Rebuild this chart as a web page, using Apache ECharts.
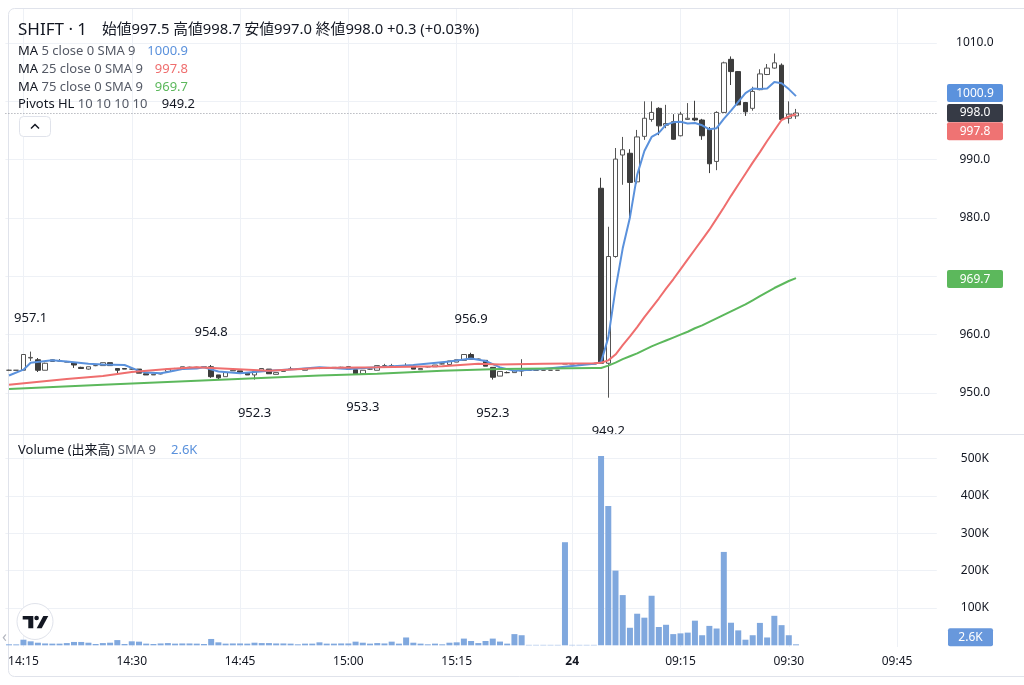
<!DOCTYPE html>
<html><head><meta charset="utf-8">
<script src="https://cdn.jsdelivr.net/npm/echarts@6/dist/echarts.min.js"></script>
<style>html,body{margin:0;padding:0;background:#fff;}#c{width:1024px;height:685px;}</style>
</head><body><div id="c"></div>
<script>
const FONT = '"Noto Sans", "Noto Sans CJK JP", sans-serif';
function minuteRange(from, to) {
  const p = s => { const a = s.split(':').map(Number); return a[0] * 60 + a[1]; };
  const out = [];
  for (let t = p(from); t <= p(to); t++) out.push(String(Math.floor(t / 60)).padStart(2, '0') + ':' + String(t % 60).padStart(2, '0'));
  return out;
}
// minute bars: previous session then session of the 24th
const categories = minuteRange('14:13', '15:30').concat(minuteRange('09:00', '09:50'));
const axisTimeLabels = ['14:15', '14:30', '14:45', '15:00', '15:15', '09:00', '09:15', '09:30', '09:45'];
const dayLabels = { '09:00': '24' };

// [open, close, low, high] per bar, 14:13 .. 09:31
const ohlc = [
  [953.9,953.9,953.8,954.0],[953.9,953.9,953.9,953.9],
  [953.9,956.6,953.9,956.6],[956.0,956.1,955.5,957.1],[955.7,953.9,953.6,956.0],[953.9,955.1,953.9,955.2],[955.4,955.7,955.4,955.8],
  [955.5,955.5,955.4,955.8],[955.4,955.3,955.3,955.5],[955.2,954.8,954.3,955.3],[954.4,954.2,954.2,954.5],[954.1,954.5,954.0,954.5],
  [954.7,954.7,954.6,954.8],[954.7,955.2,954.7,955.2],[955.2,954.7,954.7,955.2],[954.2,953.9,953.2,954.2],[954.2,954.1,954.1,954.2],
  [954.1,954.1,954.0,954.2],[954.1,953.4,953.4,954.1],[953.3,953.1,953.1,953.3],[953.1,953.2,953.1,953.2],[953.3,953.3,953.2,953.4],
  [953.7,954.1,953.7,954.1],[954.2,954.2,954.1,954.3],[954.1,954.5,954.1,954.5],[954.4,954.4,954.3,954.5],[954.4,954.4,954.3,954.5],
  [954.4,954.5,954.3,954.6],[954.5,952.8,952.6,954.8],[953.1,952.6,952.4,953.1],[952.8,953.5,952.8,953.5],[953.8,953.9,953.8,953.9],
  [953.8,953.4,953.4,953.8],[953.4,953.1,953.1,953.4],[953.1,953.7,952.3,953.7],[953.9,954.2,953.9,954.2],[954.1,953.3,953.3,954.1],
  [953.2,953.5,953.2,953.5],[953.7,954.0,953.7,954.0],[954.1,954.1,954.0,954.5],[954.1,954.1,954.1,954.2],[953.9,954.2,953.9,954.2],
  [954.3,954.3,954.2,954.4],[954.2,954.2,954.1,954.4],[954.3,954.3,954.2,954.4],[954.3,954.4,954.3,954.4],[954.4,954.4,954.3,954.5],
  [954.5,954.1,954.1,954.5],[954.0,953.3,953.3,954.0],[953.3,953.9,953.3,953.9],[954.1,954.1,954.0,954.2],[953.9,954.7,953.9,954.7],
  [954.7,954.7,954.5,955.0],[954.7,954.7,954.5,955.0],[954.6,954.6,954.5,954.7],[954.7,954.7,954.6,955.1],[954.5,954.1,954.1,954.5],
  [954.0,954.2,954.0,954.2],[954.5,954.5,954.4,954.6],[954.5,954.8,954.5,954.8],[955.0,955.0,954.9,955.1],[954.9,955.5,954.9,955.5],
  [955.3,955.7,955.3,955.7],[955.6,956.6,955.6,956.6],[956.6,955.8,955.8,956.9],[955.8,955.8,955.7,955.9],[955.6,954.6,954.6,955.6],
  [954.4,952.7,952.3,954.4],[952.9,953.7,952.9,953.7],[953.5,953.5,953.4,953.7],[953.5,953.8,953.5,953.8],[953.8,953.8,952.9,955.8],
  [953.9,953.9,953.9,953.9],[953.9,953.9,953.9,953.9],[953.9,953.9,953.9,953.9],[953.9,953.9,953.9,953.9],[953.9,953.9,953.9,953.9],
  [955.0,955.0,955.0,955.0],
  [955.0,955.0,955.0,955.0],[955.0,955.0,955.0,955.0],[955.0,955.0,955.0,955.0],[955.0,955.0,955.0,955.0],
  [985.1,955.1,955.0,986.9],[955.1,973.4,949.2,978.5],[973.4,990.1,973.2,992.0],[990.8,991.7,985.7,993.9],[991.1,986.1,979.7,991.8],
  [986.2,993.9,985.9,995.1],[994.0,997.1,993.4,1000.0],[996.9,998.1,996.5,1000.0],[998.8,995.8,994.2,999.0],[995.9,996.2,995.4,999.4],
  [996.5,993.5,993.4,997.8],[994.1,997.8,994.0,998.2],[996.9,997.1,996.8,999.7],[997.1,996.8,996.6,1000.1],[996.8,994.1,993.4,997.0],
  [995.2,989.3,987.7,995.6],[989.7,998.1,988.2,998.3],[998.1,1006.6,998.0,1006.8],[1007.2,1005.1,1002.8,1007.7],[1005.1,999.4,999.3,1005.2],
  [999.8,998.2,997.5,999.9],[998.8,1001.7,998.4,1002.5],[1002.0,1004.7,1001.9,1005.5],[1004.6,1005.7,1004.5,1006.4],[1005.7,1006.6,1005.6,1008.2],
  [1006.2,996.9,996.9,1006.5],[997.1,997.8,996.2,1000.0],[997.5,998.0,997.0,998.7]
];

const volumes = [
  2700, 2500,
  15000, 10700, 7000, 5000, 4500, 4500, 6000, 9000, 9000, 7000,
  3500, 6000, 7000, 14000, 3500, 10700, 9800, 4500, 3500, 5000,
  6000, 4500, 5000, 5000, 4500, 3500, 17000, 8000, 4500, 5000,
  5000, 4500, 7000, 6000, 6000, 5000, 5000, 4500, 2700, 4500,
  4500, 8000, 4500, 4500, 5000, 5000, 9800, 7000, 4500, 6000,
  5000, 9800, 4500, 21000, 7000, 4500, 2700, 4500, 2700, 7000,
  8000, 18000, 11600, 6000, 11600, 18000, 10000, 4500, 30000, 27000,
  1200, 1200, 1200, 1200, 1200, 276000, 1200, 1200, 1200, 1200,
  507000, 373000, 200000, 134500, 47000, 84600, 74000, 132700, 49000, 55000,
  30000, 32000, 34000, 66000, 27000, 52000, 45000, 250000, 60500, 40000,
  15000, 27000, 60000, 21000, 79000, 54000, 27000, 2600
];

const ma5 = [
  ['14:13',953.0],['14:15',954.0],['14:16',955.2],['14:19',955.6],['14:21',955.4],['14:24',955.0],['14:26',954.9],
  ['14:29',954.8],['14:30',954.3],['14:31',953.8],['14:32',953.5],['14:34',953.4],['14:35',953.6],['14:37',954.1],
  ['14:39',954.2],['14:40',954.4],['14:42',953.7],['14:45',953.4],['14:49',953.8],['14:53',954.1],['14:56',954.4],
  ['15:00',954.1],['15:04',954.4],['15:09',954.8],['15:14',955.4],['15:17',955.9],['15:19',955.5],['15:21',954.4],
  ['15:23',953.8],['15:27',954.1],['15:30',954.5],['09:03',955.0],['09:04',955.3],['09:05',959.5],['09:06',967.8],
  ['09:07',974.8],['09:08',980.1],['09:09',987.4],['09:10',991.5],['09:11',993.9],['09:12',994.6],['09:13',996.0],
  ['09:14',996.4],['09:15',996.5],['09:16',996.2],['09:17',996.3],['09:18',995.9],['09:19',995.2],['09:20',995.4],
  ['09:21',997.0],['09:22',998.4],['09:23',999.9],['09:24',1001.4],['09:25',1002.2],['09:26',1002.1],['09:27',1002.2],
  ['09:28',1003.3],['09:29',1003.1],['09:30',1002.1],['09:31',1000.9]
];
const ma25 = [
  ['14:13',951.4],['14:21',952.4],['14:26',952.9],['14:30',953.6],['14:35',954.1],['14:39',954.4],['14:44',954.1],
  ['14:49',953.8],['14:56',954.3],['15:04',954.4],['15:13',954.6],['15:18',955.0],['15:21',954.9],['15:27',955.0],
  ['09:03',955.1],['09:04',955.2],['09:05',955.6],['09:06',956.6],['09:07',958.2],['09:08',959.7],['09:09',961.3],
  ['09:10',963.0],['09:11',964.6],['09:12',966.2],['09:13',967.9],['09:14',969.5],['09:15',971.2],['09:16',972.9],
  ['09:17',974.6],['09:18',976.3],['09:19',978.0],['09:20',979.9],['09:21',981.8],['09:22',983.8],['09:23',985.7],
  ['09:24',987.6],['09:25',989.5],['09:26',991.3],['09:27',993.2],['09:28',995.0],['09:29',996.8],['09:30',997.4],
  ['09:31',997.8]
];
const ma75 = [
  ['14:13',950.7],['14:26',951.4],['14:39',952.1],['14:56',953.0],['15:04',953.3],['15:13',953.8],['15:21',954.1],
  ['09:03',954.3],['09:04',954.3],['09:05',954.7],['09:06',955.2],['09:07',955.8],['09:08',956.3],['09:09',956.8],
  ['09:10',957.4],['09:11',958.0],['09:12',958.5],['09:13',959.0],['09:14',959.5],['09:15',960.0],['09:16',960.5],
  ['09:17',961.1],['09:18',961.6],['09:19',962.2],['09:20',962.8],['09:21',963.4],['09:22',964.0],['09:23',964.6],
  ['09:24',965.2],['09:25',965.9],['09:26',966.6],['09:27',967.3],['09:28',968.0],['09:29',968.6],['09:30',969.2],
  ['09:31',969.7]
];

const pivotTimes = ['14:16', '14:41', '15:17', '14:47', '15:02', '15:20', '09:05'];
const pivotValues = [957.1, 954.8, 956.9, 952.3, 953.3, 952.3, 949.2];
const pivotKinds = ['H', 'H', 'H', 'L', 'L', 'L', 'L'];

const priceTicks = [950, 960, 970, 980, 990, 1000, 1010];
const priceLabels = [950, 960, 980, 990, 1010];
const volumeTicks = [100000, 200000, 300000, 400000, 500000];

const lastClose = 998.0;
const lastMA5 = 1000.9, lastMA25 = 997.8, lastMA75 = 969.7, lastVolume = 2600;

const C_BLUE = '#5a91dc', C_RED = '#ef6e6e', C_GREEN = '#5cb85c', C_TEXT = '#131722', C_GREY = '#555a66', C_GRID = '#eef1f6';

const chart = echarts.init(document.getElementById('c'), null, { renderer: 'canvas' });
const GRID_L = 5.4, GRID_R = 87.2;

const option = {
  animation: false,
  backgroundColor: '#ffffff',
  textStyle: { fontFamily: FONT },
  grid: [
    { left: GRID_L, right: GRID_R, top: 9, height: 424.5 },
    { left: GRID_L, right: GRID_R, top: 435, height: 212 }
  ],
  xAxis: [
    { type: 'category', gridIndex: 0, data: categories, axisLine: { show: false }, axisTick: { show: false }, axisLabel: { show: false }, splitLine: { show: false } },
    { type: 'category', gridIndex: 1, data: categories, axisLine: { show: false }, axisTick: { show: false }, splitLine: { show: false },
      axisLabel: { interval: (i, v) => axisTimeLabels.indexOf(v) >= 0, margin: 9, color: C_TEXT, fontSize: 12, fontFamily: FONT,
        formatter: v => dayLabels[v] ? '{d|' + dayLabels[v] + '}' : v,
        rich: { d: { fontWeight: 'bold', fontSize: 12, color: C_TEXT, fontFamily: FONT } } } }
  ],
  yAxis: [
    { type: 'value', gridIndex: 0, position: 'right', min: 943.06, max: 1015.83, scale: true,
      axisLine: { show: false }, axisTick: { show: false, customValues: priceTicks },
      axisLabel: { customValues: priceLabels, formatter: v => v.toFixed(1), margin: 38, align: 'center', color: C_TEXT, fontSize: 12, fontFamily: FONT },
      splitLine: { show: true, lineStyle: { color: C_GRID, width: 1 } } },
    { type: 'value', gridIndex: 1, position: 'right', min: -4500, max: 563000,
      axisLine: { show: false }, axisTick: { show: false, customValues: volumeTicks },
      axisLabel: { customValues: volumeTicks, formatter: v => (v / 1000) + 'K', margin: 38, align: 'center', color: C_TEXT, fontSize: 12, fontFamily: FONT },
      splitLine: { show: true, lineStyle: { color: C_GRID, width: 1 } } }
  ],
  series: [
    { type: 'candlestick', name: 'SHIFT', xAxisIndex: 0, yAxisIndex: 0, data: ohlc, barWidth: 5, z: 2,
      itemStyle: { color: '#ffffff', color0: '#3d3d3d', borderColor: '#555555', borderColor0: '#3d3d3d', borderWidth: 1 },
      markLine: { silent: true, symbol: ['none', 'none'], z: 1, label: { show: false },
        data: axisTimeLabels.map(t => ({ xAxis: t, lineStyle: { color: C_GRID, width: 1, type: 'solid' } }))
          .concat([{ yAxis: lastClose, lineStyle: { color: '#9598a1', width: 1, type: [1, 2] } }]) },
      markPoint: { silent: true, symbol: 'circle', symbolSize: 0.1, itemStyle: { color: 'rgba(0,0,0,0)' },
        data: pivotTimes.map((t, k) => ({ coord: [t, pivotValues[k]], value: pivotValues[k],
          label: { show: true, position: 'inside', offset: [0, pivotKinds[k] === 'H' ? -33 : 34], formatter: p => p.value.toFixed(1), color: C_TEXT, fontSize: 13, fontFamily: FONT } })) } },
    { type: 'line', name: 'MA5', xAxisIndex: 0, yAxisIndex: 0, data: ma5, showSymbol: false, z: 3, lineStyle: { color: C_BLUE, width: 2 }, itemStyle: { color: C_BLUE } },
    { type: 'line', name: 'MA25', xAxisIndex: 0, yAxisIndex: 0, data: ma25, showSymbol: false, z: 3, lineStyle: { color: C_RED, width: 2 }, itemStyle: { color: C_RED } },
    { type: 'line', name: 'MA75', xAxisIndex: 0, yAxisIndex: 0, data: ma75, showSymbol: false, z: 3, lineStyle: { color: C_GREEN, width: 2 }, itemStyle: { color: C_GREEN } },
    { type: 'bar', name: 'Volume', xAxisIndex: 1, yAxisIndex: 1, data: volumes, barWidth: 6, itemStyle: { color: '#80a8de' },
      markLine: { silent: true, symbol: ['none', 'none'], z: 1, label: { show: false },
        data: axisTimeLabels.map(t => ({ xAxis: t, lineStyle: { color: C_GRID, width: 1, type: 'solid' } })) } }
  ]
};
chart.setOption(option);

function txt(x, y, text, opts) {
  return Object.assign({ type: 'text', z: 50, style: Object.assign({ x: x, y: y, text: text, fill: C_TEXT, font: '13px ' + FONT, textVerticalAlign: 'middle' }, opts || {}) });
}
function rt(x, y, text, rich, size) {
  return { type: 'text', z: 50, style: { x: x, y: y, text: text, rich: rich, font: size + 'px ' + FONT, fill: C_TEXT, textVerticalAlign: 'middle' } };
}
const richLegend = { a: { fill: C_TEXT, fontSize: 13, fontFamily: FONT }, b: { fill: C_GREY, fontSize: 13, fontFamily: FONT } };

function tag(yc, text, color, w, xl) {
  return [
    { type: 'rect', z: 60, shape: { x: xl, y: yc - 9, width: w, height: 18, r: 2 }, style: { fill: color } },
    { type: 'text', z: 61, style: { x: xl + w / 2, y: yc, text: text, fill: '#ffffff', font: '12px ' + FONT, textAlign: 'center', textVerticalAlign: 'middle' } }
  ];
}
const yP = v => chart.convertToPixel({ yAxisIndex: 0 }, v);
const yV = v => chart.convertToPixel({ yAxisIndex: 1 }, v);

const graphics = [
  { type: 'rect', z: 0, shape: { x: 8.5, y: 8.5, width: 1030, height: 668, r: 6 }, style: { fill: 'none', stroke: '#e0e3eb', lineWidth: 1 } },
  { type: 'rect', z: 90, shape: { x: 580, y: 434.5, width: 50, height: 8 }, style: { fill: '#ffffff' } },
  { type: 'line', z: 91, shape: { x1: 8, y1: 434.5, x2: 1024, y2: 434.5 }, style: { stroke: '#e0e3eb', lineWidth: 1 } },
  txt(18, 30, 'SHIFT · 1', { font: '17px ' + FONT }),
  txt(102, 30, '始値997.5 高値998.7 安値997.0 終値998.0 +0.3 (+0.03%)', { font: '14.8px ' + FONT }),
  rt(18, 51, '{a|MA} {b|5 close 0 SMA 9}', richLegend, 13),
  rt(18, 69, '{a|MA} {b|25 close 0 SMA 9}', richLegend, 13),
  rt(18, 87, '{a|MA} {b|75 close 0 SMA 9}', richLegend, 13),
  rt(18, 104, '{a|Pivots HL} {b|10 10 10 10}', richLegend, 13),
  txt(188, 51, lastMA5.toFixed(1), { fill: C_BLUE, textAlign: 'right' }),
  txt(188, 69, lastMA25.toFixed(1), { fill: C_RED, textAlign: 'right' }),
  txt(188, 87, lastMA75.toFixed(1), { fill: C_GREEN, textAlign: 'right' }),
  txt(195, 104, pivotValues[6].toFixed(1), { fill: C_TEXT, textAlign: 'right' }),
  { type: 'rect', z: 50, shape: { x: 19.5, y: 116.5, width: 31, height: 20, r: 4 }, style: { fill: '#ffffff', stroke: '#e0e3eb', lineWidth: 1 } },
  { type: 'polyline', z: 51, shape: { points: [[31, 128.5], [35, 124.5], [39, 128.5]] }, style: { stroke: C_TEXT, lineWidth: 1.5, fill: 'none' } },
  rt(18, 450, '{a|Volume (出来高)} {b|SMA 9}', richLegend, 13),
  txt(171, 450, (lastVolume / 1000).toFixed(1) + 'K', { fill: C_BLUE }),
  { type: 'circle', z: 50, shape: { cx: 35, cy: 621.5, r: 18 }, style: { fill: '#ffffff', stroke: '#e0e3eb', lineWidth: 1 } },
  { type: 'polygon', z: 51, shape: { points: [[22.7, 616], [33.3, 616], [33.3, 628.3], [28.3, 628.3], [28.3, 619.5], [22.7, 619.5]] }, style: { fill: '#131722' } },
  { type: 'circle', z: 51, shape: { cx: 36.6, cy: 618, r: 2.3 }, style: { fill: '#131722' } },
  { type: 'polygon', z: 51, shape: { points: [[43.3, 616], [48.3, 616], [41.7, 628.3], [36.7, 628.3]] }, style: { fill: '#131722' } },
  txt(2, 637, '‹', { fill: '#b2b5be', font: '16px ' + FONT })
]
.concat(tag(yP(lastMA5) - 3, lastMA5.toFixed(1), '#5b92dd', 56, 947))
.concat(tag(yP(lastClose), lastClose.toFixed(1), '#363a45', 56, 947))
.concat(tag(yP(lastMA25) + 17, lastMA25.toFixed(1), '#ef7373', 56, 947))
.concat(tag(yP(lastMA75) + 1, lastMA75.toFixed(1), '#5cb85c', 56, 947))
.concat(tag(yV(lastVolume) - 7, (lastVolume / 1000).toFixed(1) + 'K', '#6898dc', 45, 948));

chart.setOption({ graphic: graphics });
</script>
</body></html>
